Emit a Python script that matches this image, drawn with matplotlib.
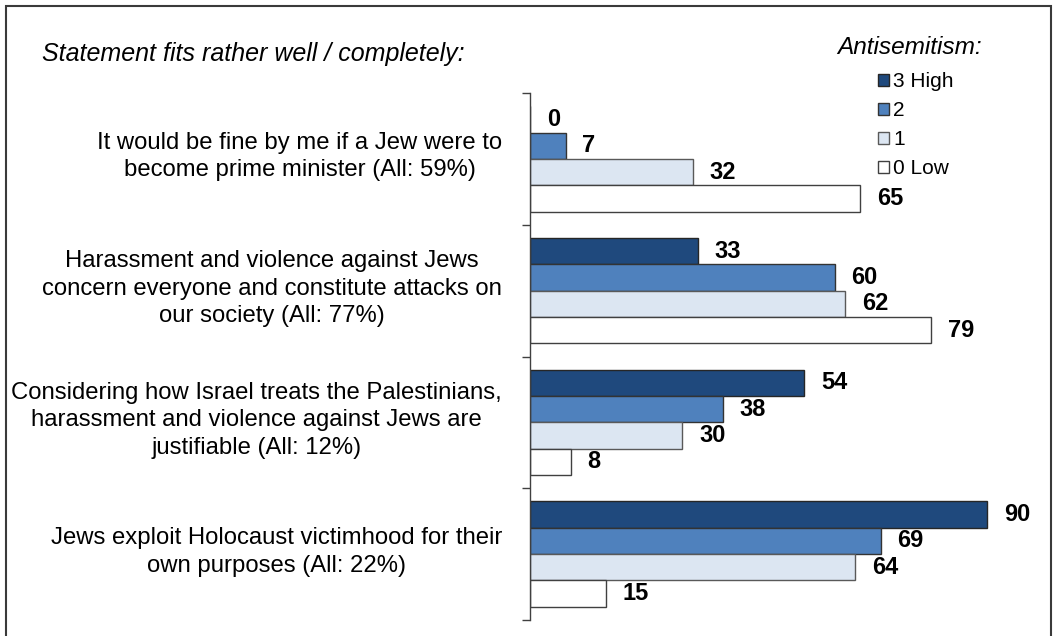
import matplotlib
matplotlib.use("Agg")
import numpy as np
import matplotlib.pyplot as plt
from matplotlib.patches import Patch, Rectangle

plt.rcParams['font.family'] = ['Liberation Sans', 'DejaVu Sans']

# data
statements = [
    "It would be fine by me if a Jew were to\nbecome prime minister (All: 59%)",
    "Harassment and violence against Jews\nconcern everyone and constitute attacks on\nour society (All: 77%)",
    "Considering how Israel treats the Palestinians,\nharassment and violence against Jews are\njustifiable (All: 12%)",
    "Jews exploit Holocaust victimhood for their\nown purposes (All: 22%)",
]
levels = ["3 High", "2", "1", "0 Low"]
high = [0, 33, 54, 90]
level2 = [7, 60, 38, 69]
level1 = [32, 62, 30, 64]
low = [65, 79, 8, 15]

colors = ["#1F497D", "#4F81BD", "#DCE6F2", "#FFFFFF"]
edges = ["#262626", "#333333", "#595959", "#404040"]

fig = plt.figure(figsize=(10.54, 6.36), dpi=100)
ax = fig.add_axes([530 / 1054, 1 - 620 / 636, 508 / 1054, 527 / 636])

y = np.arange(len(statements))
h = 0.2
series = [high, level2, level1, low]
for k, vals in enumerate(series):
    pos = y + (k - 1.5) * h
    ax.barh(pos, vals, height=h, color=colors[k], edgecolor=edges[k], linewidth=1)
    for p, v in zip(pos, vals):
        ax.annotate(str(v), xy=(v, p), xytext=(12, 0), textcoords="offset points",
                    ha="left", va="center", fontsize=17, fontweight="bold")

ax.set_xlim(0, 100)
ax.set_ylim(len(statements) - 0.5, -0.5)
ax.set_xticks([])
for s in ["top", "right", "bottom"]:
    ax.spines[s].set_visible(False)
ax.spines["left"].set_color("#404040")
ax.spines["left"].set_linewidth(1)

# ticks between the groups, statements centred on each group
ax.set_yticks(np.arange(len(statements) + 1) - 0.5)
ax.set_yticklabels([])
ax.tick_params(axis="y", which="major", length=5.5, width=1, color="#404040", direction="out")
for i, txt in enumerate(statements):
    ax.annotate(txt, xy=(0, i), xycoords=ax.get_yaxis_transform(),
                xytext=(-20, 1.5), textcoords="offset points",
                ha="right", va="center", multialignment="center",
                fontsize=17.2, linespacing=1.31)

fig.text(42 / 1054, 1 - 54 / 636, "Statement fits rather well / completely:",
         style="italic", fontsize=18, ha="left", va="center")
fig.text(982 / 1054, 1 - 47 / 636, "Antisemitism:", style="italic", fontsize=17.6,
         ha="right", va="center")

handles = [Patch(facecolor=c, edgecolor=e, linewidth=1) for c, e in zip(colors, edges)]
fig.legend(handles, levels, loc="upper left", bbox_to_anchor=(878 / 1054, 1 - 72 / 636),
           frameon=False, fontsize=15, handlelength=0.52, handleheight=0.52,
           handletextpad=0.2, labelspacing=0.48, borderpad=0, borderaxespad=0)

fig.patches.append(Rectangle((6 / 1054, -0.05), 1045 / 1054, 1.05 - 6 / 636,
                             transform=fig.transFigure, fill=False,
                             edgecolor="#3a3a3a", linewidth=1.5))

fig.savefig("out.png", dpi=100)
